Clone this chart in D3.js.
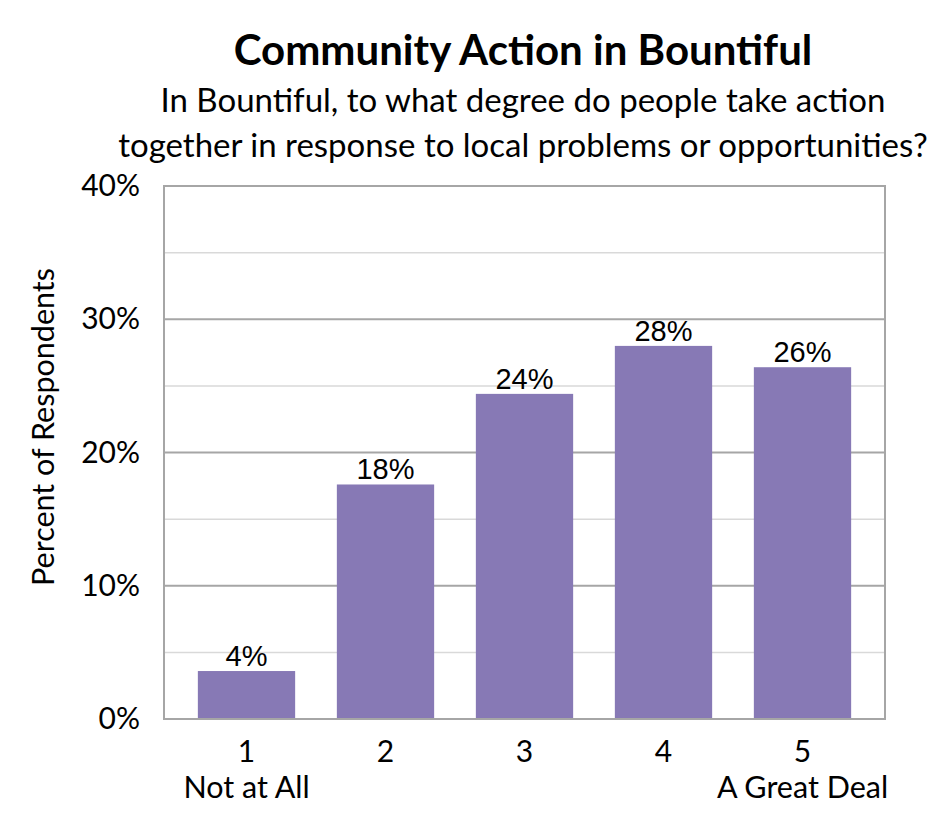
<!DOCTYPE html>
<html>
<head>
<meta charset="utf-8">
<script src="https://cdn.jsdelivr.net/npm/d3@7"></script>
<style>
  body { margin: 0; background: #fff; }
  text { font-family: Lato, "Open Sans", sans-serif; }
</style>
</head>
<body>
<script>
const categories = ['1', '2', '3', '4', '5'];
const subLabels = ['Not at All', '', '', '', 'A Great Deal'];
const values = [3.6, 17.6, 24.4, 28.0, 26.4];
const valueLabels = ['4%', '18%', '24%', '28%', '26%'];
const yTicks = [0, 10, 20, 30, 40];
const yMinor = [5, 15, 25, 35];

const width = 945, height = 840;
const plot = { left: 164, right: 885, top: 186, bottom: 719 };

const svg = d3.select('body').append('svg')
  .attr('width', width)
  .attr('height', height);

const x = d3.scaleBand()
  .domain(categories)
  .range([177, 872])
  .paddingInner(0.3)
  .paddingOuter(0.15);

const y = d3.scaleLinear()
  .domain([0, 40])
  .range([plot.bottom, plot.top]);

// gridlines
svg.append('g').selectAll('line.minor')
  .data(yMinor)
  .enter().append('line')
  .attr('x1', plot.left).attr('x2', plot.right)
  .attr('y1', d => y(d)).attr('y2', d => y(d))
  .attr('stroke', '#d9d9d9')
  .attr('stroke-width', 1.5);

svg.append('g').selectAll('line.major')
  .data(yTicks.slice(1, -1))
  .enter().append('line')
  .attr('x1', plot.left).attr('x2', plot.right)
  .attr('y1', d => y(d)).attr('y2', d => y(d))
  .attr('stroke', '#a6a6a6')
  .attr('stroke-width', 2);

// bars
svg.append('g').selectAll('rect')
  .data(values)
  .enter().append('rect')
  .attr('x', (d, i) => x(categories[i]))
  .attr('y', d => y(d))
  .attr('width', x.bandwidth())
  .attr('height', d => plot.bottom - y(d))
  .attr('fill', '#8779b5');

// frame
svg.append('rect')
  .attr('x', plot.left).attr('y', plot.top)
  .attr('width', plot.right - plot.left)
  .attr('height', plot.bottom - plot.top)
  .attr('fill', 'none')
  .attr('stroke', '#a6a6a6')
  .attr('stroke-width', 2);

// value labels
svg.append('g').selectAll('text')
  .data(values)
  .enter().append('text')
  .attr('x', (d, i) => x(categories[i]) + x.bandwidth() / 2)
  .attr('y', d => y(d) - 5)
  .attr('text-anchor', 'middle')
  .style('font-family', '"Liberation Sans", Arial, sans-serif')
  .style('font-size', '29px')
  .text((d, i) => valueLabels[i]);

// y axis
const yAxis = d3.axisLeft(y)
  .tickValues(yTicks)
  .tickFormat(d => d + '%')
  .tickSize(0)
  .tickPadding(24);

svg.append('g')
  .attr('transform', `translate(${plot.left},0)`)
  .call(yAxis)
  .call(g => g.select('.domain').remove())
  .selectAll('text')
  .style('font-family', 'Lato, sans-serif')
  .style('font-size', '30px')
  .attr('fill', '#000');

// x axis
const xAxis = d3.axisBottom(x).tickSize(0).tickPadding(22);
const xg = svg.append('g')
  .attr('transform', `translate(0,${plot.bottom})`)
  .call(xAxis)
  .call(g => g.select('.domain').remove());
xg.selectAll('text')
  .style('font-family', 'Lato, sans-serif')
  .style('font-size', '30px')
  .attr('fill', '#000');

xg.selectAll('.tick')
  .append('text')
  .attr('y', 79)
  .attr('fill', '#000')
  .attr('text-anchor', 'middle')
  .style('font-family', 'Lato, sans-serif')
  .style('font-size', '30.5px')
  .text((d, i) => subLabels[i]);

// y title
svg.append('text')
  .attr('transform', 'translate(54,427) rotate(-90)')
  .attr('text-anchor', 'middle')
  .style('font-size', '30.5px')
  .text('Percent of Respondents');

// titles
svg.append('text')
  .attr('x', 523).attr('y', 65)
  .attr('text-anchor', 'middle')
  .style('font-size', '42px')
  .style('font-weight', 'bold')
  .text('Community Action in Bountiful');

svg.append('text')
  .attr('x', 523).attr('y', 112)
  .attr('text-anchor', 'middle')
  .style('font-size', '33px')
  .text('In Bountiful, to what degree do people take action');

svg.append('text')
  .attr('x', 523).attr('y', 157)
  .attr('text-anchor', 'middle')
  .style('font-size', '33px')
  .text('together in response to local problems or opportunities?');
</script>
</body>
</html>
